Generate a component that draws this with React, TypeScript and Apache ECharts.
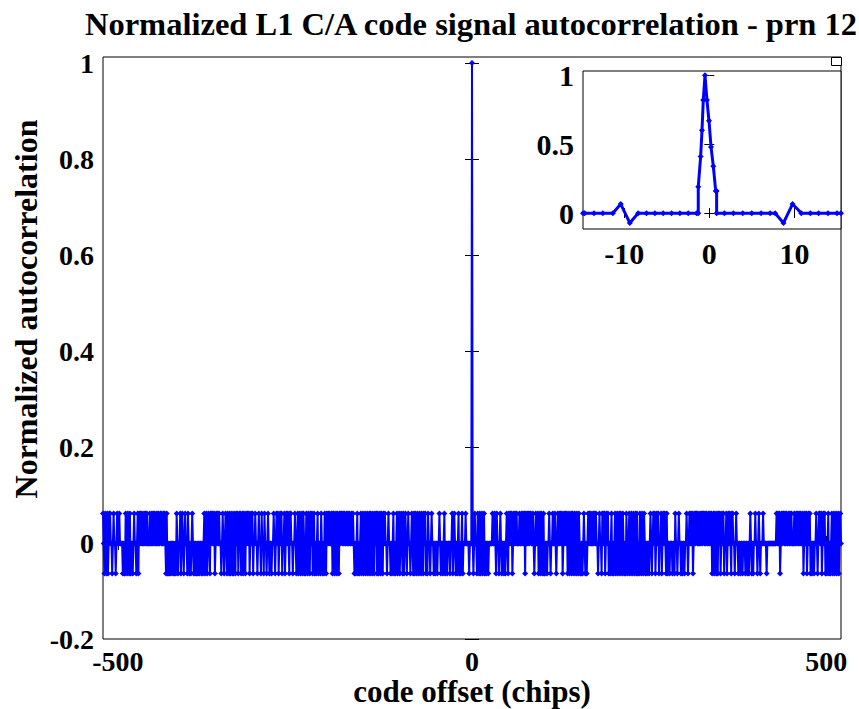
import React, { useEffect, useRef } from "react";
import * as echarts from "echarts";

const TITLE = "Normalized L1 C/A code signal autocorrelation - prn 12";
const X_LABEL = "code offset (chips)";
const Y_LABEL = "Normalized autocorrelation";

// correlation levels
const LEVEL_PLUS = 0.0616;
const LEVEL_MINUS = -0.0635;
const LEVEL_ZERO = -0.001;
const PEAK = 1;

// per-chip level codes ('+', '-', '0'), chips -521 .. -1 (outermost first)
const LEFT_CHUNKS = [
  "+0-+0-+-0+", "+00-0+00-0", "+00+0000-0-", "-+0-+0-+-0", "0-0+00-0+-",
  "+0+0+00+0+", "0+000+00+0", "+0+00+0+00+", "+00+0+0-+-", "-0-0-00-0-",
  "0-+0-00+-0", "+0-0+00-+0", "-0-0+0-0-0-", "0-0-00-0-0", "+-0+-0+0-+",
  "+0+0+-0+0+", "0+00-0+0-0", "+0-+0-+-0+-", "-+0-+0+-0+", "+-0+-+0-+0",
  "+0+-0+0+-0", "0+00-0+00-", "+00-+00-0+0", "-00-00+0-0", "+0+-0+0+-0",
  "0+-0+0+0-+", "+00-00+0-0", "+-0+-0+-+0-", "-+0-+0-+0+", "-0+-0-0+-0",
  "0-+0-0-+0-", "+0+0+00+-+", "+-0+-+0-+0+", "+0+0+00+0+", "0+00+0+0-0",
  "-0+-0-0+-0", "+-0+-0+-0+", "-+0-+0-+0+-", "+-0+-+0-+0", "+00-0+00-0",
  "-0+-0-0+-0", "+-0+0-+-0+", "0-0+00-0+0-", "+-+0-+0-+0", "-+0-+0+-0-",
  "+00-0+00-0", "-00-00+0-0", "0-0+-00-000", "-00+-0+0-0", "-0+-0-0+-0",
  "00+0000-00", "0",
];

// chips 1 .. 521
const RIGHT_CHUNKS = [
  "0-0+00-+0-", "+-0+-0+-0-", "00-00000+00", "+0-+00-0+0", "-00-0-0+0-",
  "+0+0+-0+0+", "0+000+00+0", "+0+-+0+0+0+", "+00+0-0+00", "+-0+-+0-+-",
  "-00-00+0-0", "0+00+0-0+0", "+0+0+-0+0+0", "+-0+-0+-+0", "-+0-+0-+0-",
  "-0-0+0-0-0", "+0+0+00+0+", "0+00-0+00-+", "+0+-0+0+-0", "-0+-0-0+-0",
  "+-0+-+0-+0", "-0-+0-0+-0", "+-0+-0+-+-0", "-+0-+0-+0-", "0-00-0+0-0",
  "+0+-0+0+-0", "0+-0+0+0-+", "-00-000-00-", "+00-0+00-0", "-00-00+0-0",
  "+0+0+-0+0+", "+0+00+0+0+", "+0+0+00+0+0", "+-0+-+0-+-", "+0+-0+0+-0",
  "0+-0+0+0-+", "+00-0+00-0", "0-00-000-00", "-0-0+0-0-0", "0+00-0+0-0",
  "00+0000-00", "0000000000", "0+0+0+-0+0+", "+0+0+00+0+", "0+000+00+0",
  "+0+0+00+-0", "+0+-0+0+-0", "-00-00+0-0+", "+0+-0+0+-0", "-0+-0-0+-0",
  "+-0+-0+-0+", "0",
];

const MAIN_X_MIN = -521;
const MAIN_X_MAX = 521;
const MAIN_Y_MIN = -0.2;
const MAIN_Y_MAX = 1.0125;
const MAIN_X_TICKS = [-500, 0, 500];
const MAIN_Y_TICKS = [-0.2, 0, 0.2, 0.4, 0.6, 0.8, 1];

// inset (zoom around zero offset)
const INSET_X = [
  -14.85, -14.66, -13.56, -12.52, -11.34, -10.41, -9.35, -8.37, -7.39, -6.4, -5.42, -4.44, -3.46, -2.48, -1.49,
  -1.3, -1.3, -1.02, -0.86, -0.71, -0.51, -0.28, -0.04, 0.2, 0.47, 0.75, 0.86, 0.86,
  1.77, 2.83, 3.93, 4.99, 6.09, 7.15, 7.74, 8.72, 9.78, 10.81, 11.87, 12.85, 13.95, 15.01, 15.48,
];
const INSET_Y = [
  -0.001, -0.001, -0.001, -0.001, -0.001, 0.065, -0.072, -0.001, -0.001, -0.001, -0.001, -0.001, -0.001, -0.001, -0.001,
  -0.001, 0.19, 0.41, 0.6, 0.82, 1.0, 0.82, 0.67, 0.48, 0.34, 0.16, 0.16, -0.001,
  -0.001, -0.001, -0.001, -0.001, -0.001, -0.001, -0.001, -0.072, 0.065, -0.001, -0.001, -0.001, -0.001, -0.001, -0.001,
];
const INSET_X_MIN = -14.85;
const INSET_X_MAX = 15.48;
const INSET_Y_MIN = -0.116;
const INSET_Y_MAX = 1.031;
const INSET_X_TICKS = [-10, 0, 10];
const INSET_Y_TICKS = [0, 0.5, 1];

const FONT = "'Liberation Serif', 'DejaVu Serif', serif";
const BLUE = "#0000ff";

function buildMain(): [number, number][] {
  const levels: Record<string, number> = { "+": LEVEL_PLUS, "-": LEVEL_MINUS, "0": LEVEL_ZERO };
  const left = LEFT_CHUNKS.join("");
  const right = RIGHT_CHUNKS.join("");
  const out: [number, number][] = [];
  for (let i = 0; i < left.length; i++) out.push([-left.length + i, levels[left[i]]]);
  out.push([0, PEAK]);
  for (let i = 0; i < right.length; i++) out.push([i + 1, levels[right[i]]]);
  return out;
}

const tickLabel = {
  fontFamily: FONT,
  fontWeight: "bold" as const,
  fontSize: 28,
  color: "#000",
};
const insetTickLabel = { ...tickLabel, fontSize: 30 };

function axis(gridIndex: number, min: number, max: number, position: string, ticks: number[], tickLen: number, labelStyle: any, margin = 9, extra: any = {}) {
  return {
    gridIndex, type: "value", min, max, position,
    axisLine: { show: false },
    axisTick: { show: true, inside: true, length: tickLen, customValues: ticks, lineStyle: { color: "#000", width: 1 } },
    axisLabel: labelStyle ? { ...labelStyle, customValues: ticks, margin } : { show: false },
    splitLine: { show: false },
    ...extra,
  };
}

export default function App() {
  const ref = useRef<HTMLDivElement>(null);
  useEffect(() => {
    if (!ref.current) return;
    const chart = echarts.init(ref.current, undefined, { renderer: "svg" });
    const mainData = buildMain();
    const insetData = INSET_X.map((x, i) => [x, INSET_Y[i]]);
    const bigFont = "bold 32px 'Liberation Serif', 'DejaVu Serif', serif";
    const xNameFont = "bold 31px 'Liberation Serif', 'DejaVu Serif', serif";
    const option: any = {
      animation: false,
      backgroundColor: "#fff",
      title: {
        text: TITLE,
        left: 466,
        top: 2,
        textAlign: "center",
        textStyle: { fontFamily: FONT, fontWeight: "bold", fontSize: 32.5, color: "#000" },
      },
      grid: [
        { left: 103, right: 18, top: 57, bottom: 70, show: true, borderColor: "#000", borderWidth: 1, backgroundColor: "transparent", outerBoundsMode: "none", containLabel: false },
        { left: 583, top: 71, width: 258, height: 158, show: true, backgroundColor: "#fff", borderColor: "#000", borderWidth: 1, z: 5, outerBoundsMode: "none", containLabel: false },
      ],
      xAxis: [
        axis(0, MAIN_X_MIN, MAIN_X_MAX, "bottom", MAIN_X_TICKS, 7, tickLabel, 8),
        axis(0, MAIN_X_MIN, MAIN_X_MAX, "top", MAIN_X_TICKS, 7, null),
        axis(1, INSET_X_MIN, INSET_X_MAX, "bottom", INSET_X_TICKS, 5, insetTickLabel, 9, { z: 6 }),
        axis(1, INSET_X_MIN, INSET_X_MAX, "top", INSET_X_TICKS, 5, null, 9, { z: 6 }),
      ],
      yAxis: [
        axis(0, MAIN_Y_MIN, MAIN_Y_MAX, "left", MAIN_Y_TICKS, 7, tickLabel, 9),
        axis(0, MAIN_Y_MIN, MAIN_Y_MAX, "right", MAIN_Y_TICKS, 7, null),
        axis(1, INSET_Y_MIN, INSET_Y_MAX, "left", INSET_Y_TICKS, 5, insetTickLabel, 9, { z: 6 }),
        axis(1, INSET_Y_MIN, INSET_Y_MAX, "right", INSET_Y_TICKS, 5, null, 9, { z: 6 }),
      ],
      graphic: [
        {
          type: "text", x: 26, y: 309, rotation: Math.PI / 2,
          style: { text: Y_LABEL, fill: "#000", align: "center", verticalAlign: "middle", font: bigFont },
          z: 10,
        },
        {
          type: "text", x: 472, y: 691,
          style: { text: X_LABEL, fill: "#000", align: "center", verticalAlign: "middle", font: xNameFont },
          z: 10,
        },
        { type: "rect", left: 831, top: 57, shape: { width: 10, height: 8 }, style: { fill: "#fff", stroke: "#000", lineWidth: 1 }, z: 10 },
      ],
      series: [
        {
          type: "line", xAxisIndex: 0, yAxisIndex: 0, data: mainData,
          symbol: "diamond", symbolSize: 6, showAllSymbol: true,
          lineStyle: { color: BLUE, width: 2 },
          itemStyle: { color: BLUE },
          z: 2,
        },
        {
          type: "line", xAxisIndex: 2, yAxisIndex: 2, data: insetData,
          symbol: "diamond", symbolSize: 6, showAllSymbol: true,
          lineStyle: { color: BLUE, width: 3 },
          itemStyle: { color: BLUE },
          z: 7,
        },
      ],
    };
    chart.setOption(option);
    return () => chart.dispose();
  }, []);
  return (
    <div
      ref={ref}
      style={{ position: "fixed", left: 0, top: 0, width: 859, height: 709, background: "#fff" }}
    />
  );
}
